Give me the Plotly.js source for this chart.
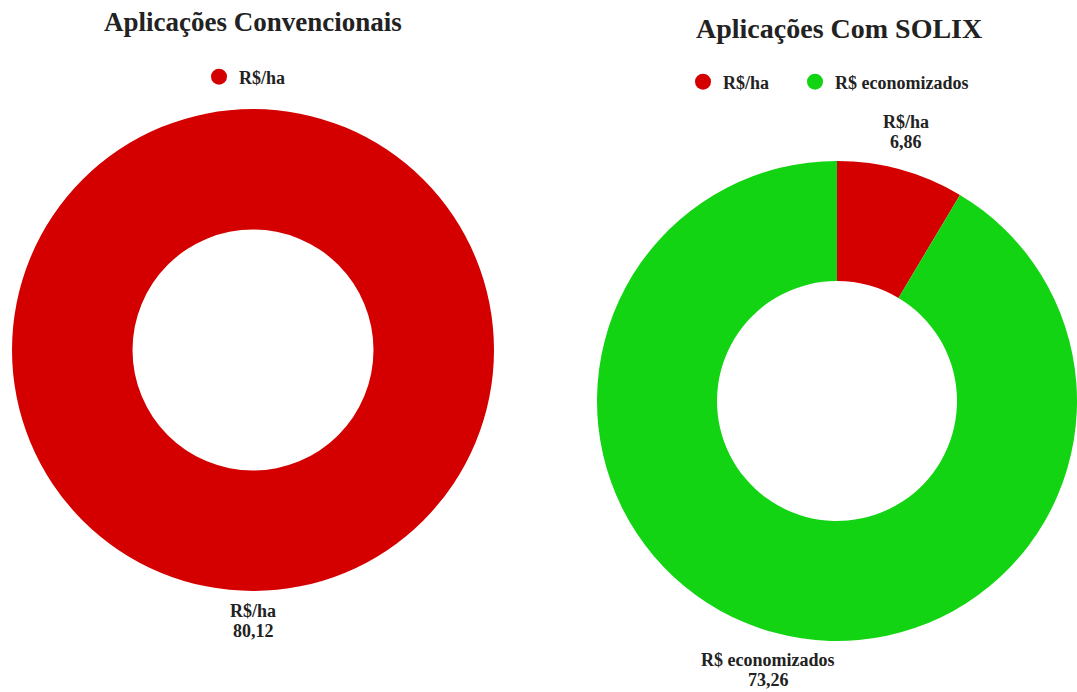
<!DOCTYPE html>
<html>
<head>
<meta charset="utf-8">
<script src="https://cdn.plot.ly/plotly-3.0.1.min.js"></script>
<style>html,body{margin:0;padding:0;background:#fff;}#chart{width:1077px;height:692px;}</style>
</head>
<body>
<div id="chart"></div>
<script>
const titles = ["Aplicações Convencionais", "Aplicações Com SOLIX"];
const convLabels = ["R$/ha"];
const convValues = [80.12];
const solixLabels = ["R$/ha", "R$ economizados"];
const solixValues = [6.86, 73.26];
const colorMap = {"R$/ha": "#d40000", "R$ economizados": "#12d412"};

const W = 1077, H = 692;
const serif = "Liberation Serif, Times New Roman, serif";
const textColor = "#222";
const labelFont = {family: serif, size: 18, color: textColor, weight: "bold"};

const domConv = {x: [12/W, 494/W], y: [1 - 592/H, 1 - 108/H]};
const domSolix = {x: [597/W, 1], y: [1 - 641/H, 1 - 161/H]};

const pieCommon = {
  type: "pie",
  hole: 0.5,
  sort: false,
  direction: "clockwise",
  rotation: 0,
  textinfo: "none",
  showlegend: false,
  hoverinfo: "label+value"
};

const traces = [
  Object.assign({}, pieCommon, {
    labels: convLabels, values: convValues,
    marker: {colors: convLabels.map(l => colorMap[l]), line: {width: 0}},
    domain: domConv
  }),
  Object.assign({}, pieCommon, {
    labels: solixLabels, values: solixValues,
    marker: {colors: solixLabels.map(l => colorMap[l]), line: {width: 0}},
    domain: domSolix
  })
];

// legend entries with circular symbols
const legendIds = {conv: ["legend"], solix: ["legend2", "legend3"]};
convLabels.forEach((l, i) => traces.push({
  type: "scatter", mode: "markers", x: [null], y: [null],
  name: l, marker: {color: colorMap[l], size: 19, symbol: "circle"},
  legend: legendIds.conv[i], showlegend: true, hoverinfo: "skip"
}));
solixLabels.forEach((l, i) => traces.push({
  type: "scatter", mode: "markers", x: [null], y: [null],
  name: l, marker: {color: colorMap[l], size: 19, symbol: "circle"},
  legend: legendIds.solix[i], showlegend: true, hoverinfo: "skip"
}));

// outside slice labels, placed from the data (slice mid-angles)
function sliceLabels(labels, values, dom, offset) {
  const total = values.reduce((a, b) => a + b, 0);
  const wpx = (dom.x[1] - dom.x[0]) * W, hpx = (dom.y[1] - dom.y[0]) * H;
  const R = Math.min(wpx, hpx) / 2;
  const cx = (dom.x[0] + dom.x[1]) / 2 * W;
  const cy = (1 - (dom.y[0] + dom.y[1]) / 2) * H;
  const lineGap = 20, half = 9;
  let cum = 0;
  const out = [];
  values.forEach((v, i) => {
    const mid = (cum + v / 2) / total * 2 * Math.PI;
    cum += v;
    const px = cx + (R + offset) * Math.sin(mid);
    const py = cy - (R + offset) * Math.cos(mid);
    const upper = Math.cos(mid) > 0;
    const y1 = upper ? py - half - lineGap : py + half;
    const y2 = y1 + lineGap;
    const lines = [labels[i], v.toFixed(2).replace(".", ",")];
    [y1, y2].forEach((yy, k) => out.push({
      text: lines[k], x: px / W, y: 1 - yy / H, xref: "paper", yref: "paper",
      xanchor: "center", yanchor: "middle", showarrow: false, font: labelFont
    }));
  });
  return out;
}

const legendFont = {family: serif, size: 18, color: textColor, weight: "bold"};
const legendBase = {orientation: "h", yanchor: "middle", font: legendFont, bgcolor: "rgba(0,0,0,0)"};

const layout = {
  width: W, height: H,
  margin: {l: 0, r: 0, t: 0, b: 0},
  paper_bgcolor: "#fff", plot_bgcolor: "#fff",
  separators: ",.",
  xaxis: {visible: false}, yaxis: {visible: false},
  legend: Object.assign({}, legendBase, {x: 245/W, xanchor: "center", y: 1 - 77/H}),
  legend2: Object.assign({}, legendBase, {x: 683/W, xanchor: "left", y: 1 - 82/H}),
  legend3: Object.assign({}, legendBase, {x: 795/W, xanchor: "left", y: 1 - 82/H}),
  annotations: [
    {text: titles[0], x: 253/W, y: 1 - 22/H, xref: "paper", yref: "paper",
     xanchor: "center", yanchor: "middle", showarrow: false,
     font: {family: serif, size: 27, color: textColor, weight: "bold"}},
    {text: titles[1], x: 839/W, y: 1 - 29/H, xref: "paper", yref: "paper",
     xanchor: "center", yanchor: "middle", showarrow: false,
     font: {family: serif, size: 28, color: textColor, weight: "bold"}}
  ].concat(sliceLabels(convLabels, convValues, domConv, 11))
   .concat(sliceLabels(solixLabels, solixValues, domSolix, 19))
};

Plotly.newPlot("chart", traces, layout, {displayModeBar: false});
</script>
</body>
</html>
